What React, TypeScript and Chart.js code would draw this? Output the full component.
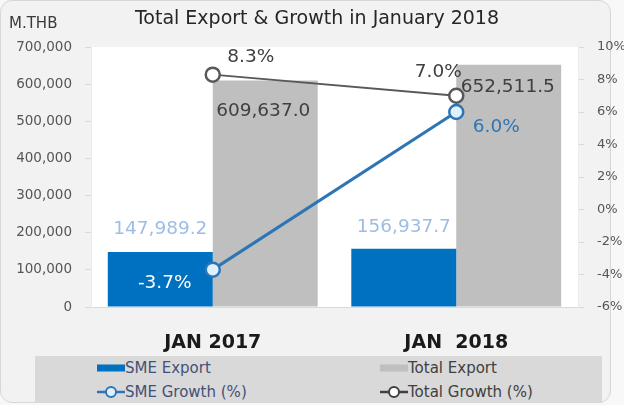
import React, { useEffect, useRef } from "react";
import { Chart, registerables } from "chart.js";

Chart.register(...registerables);

const categories = ["JAN 2017", "JAN  2018"];
const smeExport = [147989.2, 156937.7];
const totalExport = [609637.0, 652511.5];
const smeGrowth = [-3.7, 6.0];
const totalGrowth = [8.3, 7.0];
const leftTicks = { min: 0, max: 700000, step: 100000 };
const rightTicks = { min: -6, max: 10, step: 2 };

const FONT = "'DejaVu Sans', sans-serif";

// label style per dataset index: colors and pixel offsets relative to element
const labelStyles: Record<number, { colors: string[]; offsets: number[][]; fmt: (v: number) => string }> = {
  0: { colors: ["#9dbde6", "#9dbde6"], offsets: [[0, -23], [0, -22]], fmt: (v) => v.toLocaleString("en-US", { minimumFractionDigits: 1, maximumFractionDigits: 1 }) },
  1: { colors: ["#404040", "#404040"], offsets: [[-2, 31], [-1, 23]], fmt: (v) => v.toLocaleString("en-US", { minimumFractionDigits: 1, maximumFractionDigits: 1 }) },
  2: { colors: ["#ffffff", "#2e75b6"], offsets: [[-48, 14], [40, 15]], fmt: (v) => v.toFixed(1) + "%" },
  3: { colors: ["#404040", "#404040"], offsets: [[38, -17], [-18, -24]], fmt: (v) => v.toFixed(1) + "%" },
};

const plotBg = {
  id: "plotBg",
  beforeDraw(chart: any) {
    const { ctx, chartArea } = chart;
    ctx.save();
    ctx.fillStyle = "#ffffff";
    ctx.fillRect(chartArea.left, chartArea.top, chartArea.right - chartArea.left, chartArea.bottom - chartArea.top);
    ctx.restore();
  },
};

const texts = {
  id: "texts",
  afterDraw(chart: any) {
    const { ctx } = chart;
    ctx.save();
    ctx.textAlign = "center";
    ctx.textBaseline = "middle";
    ctx.fillStyle = "#262626";
    ctx.font = `19px ${FONT}`;
    ctx.fillText("Total Export & Growth in January 2018", 317, 19);
    ctx.textAlign = "left";
    ctx.fillStyle = "#3a3a3a";
    ctx.font = `15px ${FONT}`;
    ctx.fillText("M.THB", 9, 24);
    ctx.restore();
  },
};

const dataLabels = {
  id: "dataLabels",
  afterDatasetsDraw(chart: any) {
    const { ctx } = chart;
    ctx.save();
    ctx.textAlign = "center";
    ctx.textBaseline = "middle";
    ctx.font = `18.5px ${FONT}`;
    chart.data.datasets.forEach((ds: any, i: number) => {
      const st = labelStyles[i];
      if (!st) return;
      const meta = chart.getDatasetMeta(i);
      meta.data.forEach((el: any, j: number) => {
        const v = ds.data[j] as number;
        ctx.fillStyle = st.colors[j];
        ctx.fillText(st.fmt(v), el.x + st.offsets[j][0], el.y + st.offsets[j][1]);
      });
    });
    ctx.restore();
  },
};

function LegendIcon({ kind, color, fill }: { kind: "bar" | "line"; color: string; fill?: string }) {
  return (
    <svg width={28} height={14} style={{ display: "block" }}>
      {kind === "bar" ? (
        <rect x={0} y={3.5} width={28} height={7} fill={color} />
      ) : (
        <>
          <line x1={0} y1={7} x2={28} y2={7} stroke={color} strokeWidth={2.5} />
          <circle cx={14} cy={7} r={5} fill={fill} stroke={color} strokeWidth={2} />
        </>
      )}
    </svg>
  );
}

export default function App() {
  const ref = useRef<HTMLCanvasElement>(null);
  useEffect(() => {
    if (!ref.current) return;
    Chart.defaults.font.family = FONT;
    const chart = new Chart(ref.current, {
      type: "bar",
      data: {
        labels: categories,
        datasets: [
          { type: "bar", label: "SME Export", data: smeExport, backgroundColor: "#0070c0", yAxisID: "y", order: 3, categoryPercentage: 0.862, barPercentage: 1 },
          { type: "bar", label: "Total Export", data: totalExport, backgroundColor: "#bfbfbf", yAxisID: "y", order: 4, categoryPercentage: 0.862, barPercentage: 1 },
          { type: "line", label: "SME Growth (%)", data: smeGrowth, borderColor: "#2e75b6", borderWidth: 3, pointRadius: 7, pointBorderWidth: 2.5, pointBackgroundColor: "#dff1fc", pointBorderColor: "#2e75b6", yAxisID: "y1", order: 1 },
          { type: "line", label: "Total Growth (%)", data: totalGrowth, borderColor: "#595959", borderWidth: 2, pointRadius: 7, pointBorderWidth: 2.5, pointBackgroundColor: "#ffffff", pointBorderColor: "#595959", yAxisID: "y1", order: 2 },
        ] as any,
      },
      options: {
        animation: false,
        responsive: false,
        maintainAspectRatio: false,
        layout: { padding: { top: 47, bottom: 48, left: 0, right: 0 } },
        plugins: { legend: { display: false }, title: { display: false }, tooltip: { enabled: false } },
        scales: {
          x: {
            grid: { display: false, drawTicks: false },
            border: { display: true, color: "#d9d9d9" },
            ticks: { color: "#1a1a1a", font: { size: 19, weight: "bold" }, padding: 25 },
            afterFit: (s: any) => { s.height = 50; },
          },
          y: {
            position: "left",
            min: leftTicks.min,
            max: leftTicks.max,
            grid: { drawOnChartArea: false, drawTicks: true, tickLength: 6, color: "#d9d9d9" },
            border: { display: true, color: "#ececec" },
            ticks: { stepSize: leftTicks.step, color: "#555555", font: { size: 13.5 }, padding: 13, callback: (v: any) => Number(v).toLocaleString("en-US") },
            afterFit: (s: any) => { s.width = 91; },
          },
          y1: {
            position: "right",
            min: rightTicks.min,
            max: rightTicks.max,
            grid: { drawOnChartArea: false, drawTicks: true, tickLength: 6, color: "#d9d9d9" },
            border: { display: true, color: "#ececec" },
            ticks: { stepSize: rightTicks.step, color: "#555555", font: { size: 13 }, padding: 13, callback: (v: any) => v + "%" },
            afterFit: (s: any) => { s.width = 46; },
          },
        },
      } as any,
      plugins: [plotBg, texts, dataLabels],
    });
    return () => chart.destroy();
  }, []);

  const legendText: React.CSSProperties = { fontFamily: FONT, fontSize: 15, lineHeight: "16px", whiteSpace: "pre" };
  const item = (left: number, top: number, icon: React.ReactNode, text: string, color: string) => (
    <div style={{ position: "absolute", left, top, display: "flex", alignItems: "center", height: 16 }}>
      {icon}
      <span style={{ ...legendText, color }}>{text}</span>
    </div>
  );

  return (
    <div style={{ position: "fixed", left: 0, top: 0, width: 624, height: 405, overflow: "hidden", background: "#f8f8f8" }}>
      <div style={{ position: "absolute", left: 0, top: 0, width: 611, height: 403, boxSizing: "border-box", background: "#f2f2f2", border: "1px solid #d6d6d6", borderRadius: 12 }} />
      <div style={{ position: "absolute", left: 35, top: 356, width: 567, height: 47, background: "#d9d9d9" }} />
      {item(97, 360, <LegendIcon kind="bar" color="#0070c0" />, "SME Export", "#44507a")}
      {item(380, 360, <LegendIcon kind="bar" color="#bfbfbf" />, "Total Export", "#404040")}
      {item(97, 384, <LegendIcon kind="line" color="#2e75b6" fill="#dff1fc" />, "SME Growth (%)", "#44507a")}
      {item(380, 384, <LegendIcon kind="line" color="#404040" fill="#ffffff" />, "Total Growth (%)", "#404040")}
      <canvas ref={ref} width={624} height={405} style={{ position: "absolute", left: 0, top: 0, width: 624, height: 405 }} />
    </div>
  );
}
